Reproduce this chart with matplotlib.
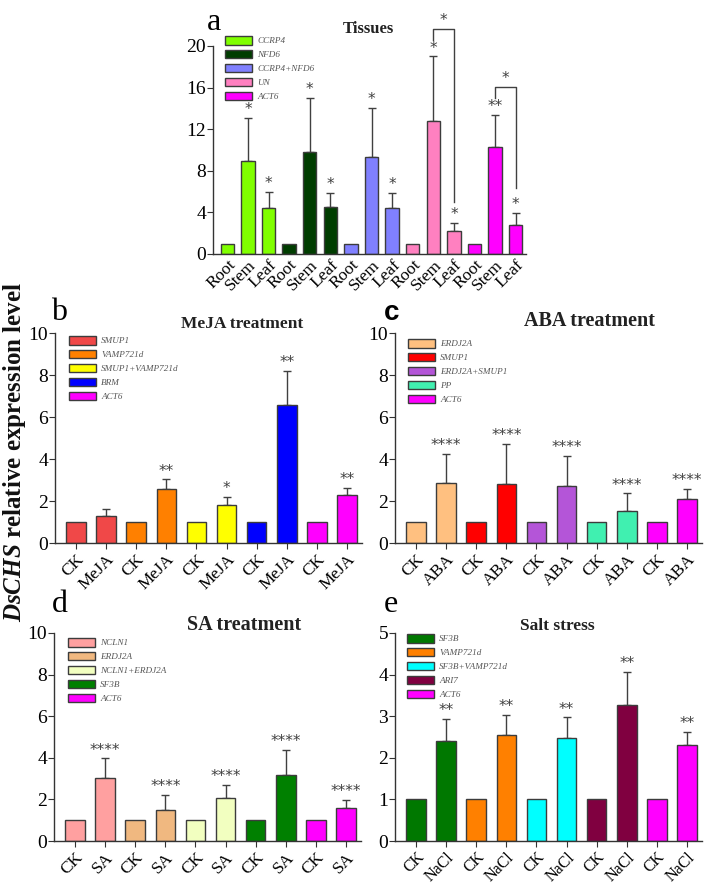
import matplotlib
matplotlib.use("Agg")
import matplotlib.pyplot as plt
from matplotlib.patches import Patch
import numpy as np

plt.rcParams['font.family'] = ['Liberation Serif', 'DejaVu Serif']
plt.rcParams['mathtext.fontset'] = 'custom'
plt.rcParams['mathtext.it'] = 'Liberation Serif:italic:bold'
plt.rcParams['mathtext.rm'] = 'Liberation Serif:bold'

W, H = 709, 885

# ---- panel a : tissues ----
a_genes = ['CCRP4', 'NFD6', 'CCRP4+NFD6', 'UN', 'ACT6']
a_colors = ['#80FF00', '#003D00', '#8080FF', '#FF80C0', '#FF00FF']
a_ticks = ['Root', 'Stem', 'Leaf']
a_means = [[1.0, 8.9, 4.45], [1.0, 9.8, 4.5], [1.0, 9.3, 4.45],
           [1.0, 12.8, 2.25], [1.0, 10.25, 2.8]]
a_errs = [[0, 4.2, 1.55], [0, 5.2, 1.35], [0, 4.75, 1.42],
          [0, 6.2, 0.72], [0, 3.15, 1.17]]
a_stars = [['', '*', '*'], ['', '*', '*'], ['', '*', '*'],
           ['', '*', '*'], ['', '**', '*']]

# ---- panel b : MeJA ----
b_genes = ['SMUP1', 'VAMP721d', 'SMUP1+VAMP721d', 'BRM', 'ACT6']
b_colors = ['#F04848', '#FF8000', '#FFFF00', '#0000FF', '#FF00FF']
b_ticks = ['CK', 'MeJA']
b_means = [[1, 1.3], [1, 2.55], [1, 1.82], [1, 6.58], [1, 2.28]]
b_errs = [[0, 0.32], [0, 0.48], [0, 0.38], [0, 1.6], [0, 0.35]]
b_stars = [['', ''], ['', '**'], ['', '*'], ['', '**'], ['', '**']]

# ---- panel c : ABA ----
c_genes = ['ERDJ2A', 'SMUP1', 'ERDJ2A+SMUP1', 'PP', 'ACT6']
c_colors = ['#FFC080', '#FF0000', '#B455D8', '#40F0B0', '#FF00FF']
c_ticks = ['CK', 'ABA']
c_means = [[1, 2.88], [1, 2.8], [1, 2.73], [1, 1.53], [1, 2.1]]
c_errs = [[0, 1.38], [0, 1.92], [0, 1.4], [0, 0.83], [0, 0.48]]
c_stars = [['', '****']] * 5

# ---- panel d : SA ----
d_genes = ['NCLN1', 'ERDJ2A', 'NCLN1+ERDJ2A', 'SF3B', 'ACT6']
d_colors = ['#FFA0A0', '#F0B880', '#F2FFC0', '#008000', '#FF00FF']
d_ticks = ['CK', 'SA']
d_means = [[1, 3.05], [1, 1.48], [1, 2.05], [1, 3.15], [1, 1.58]]
d_errs = [[0, 0.92], [0, 0.74], [0, 0.65], [0, 1.22], [0, 0.4]]
d_stars = [['', '****']] * 5

# ---- panel e : salt ----
e_genes = ['SF3B', 'VAMP721d', 'SF3B+VAMP721d', 'ARI7', 'ACT6']
e_colors = ['#007800', '#FF8000', '#00FFFF', '#800040', '#FF00FF']
e_ticks = ['CK', 'NaCl']
e_means = [[1, 2.4], [1, 2.55], [1, 2.48], [1, 3.28], [1, 2.3]]
e_errs = [[0, 0.53], [0, 0.49], [0, 0.49], [0, 0.78], [0, 0.32]]
e_stars = [['', '**']] * 5

EDGE = '#3c3c3c'
GREY = '#404040'


def px_axes(l, t, r, b):
    return [l / W, 1 - b / H, (r - l) / W, (b - t) / H]


def draw_panel(ax, genes, colors, ticks, means, errs, stars, ymax, ystep,
               xticks_marks=True, leg_xy=(12, 0), xsize=12.5):
    n = len(ticks)
    labels = []
    x = 0
    for g, col in enumerate(colors):
        for k in range(n):
            m = means[g][k]
            e = errs[g][k]
            ax.bar(x, m, width=0.65, color=col, edgecolor=EDGE, linewidth=1.0, zorder=2)
            if e > 0:
                ax.errorbar(x, m, yerr=[[0], [e]], fmt='none', ecolor=GREY,
                            elinewidth=1.0, capsize=3, capthick=1.0, zorder=1)
            if stars[g][k]:
                ax.text(x, m + e + ymax * 0.004, stars[g][k], ha='center', va='bottom',
                        fontsize=11, color=GREY, fontfamily='DejaVu Sans')
            labels.append(ticks[k])
            x += 1
    ax.set_xlim(-0.7, x - 0.5)
    ax.set_ylim(0, ymax)
    yt = np.arange(0, ymax + 0.01, ystep)
    ax.set_yticks(yt)
    ax.set_yticklabels([f'{v:g}' for v in yt])
    ax.set_xticks(range(x))
    ax.set_xticklabels(labels, rotation=45, ha='right', rotation_mode='anchor')
    for s in ['top', 'right']:
        ax.spines[s].set_visible(False)
    for s in ['left', 'bottom']:
        ax.spines[s].set_color('#333333')
        ax.spines[s].set_linewidth(1.0)
    ax.tick_params(axis='y', labelsize=14, length=4, color='#333333', pad=1)
    ax.tick_params(axis='x', labelsize=xsize, length=4 if xticks_marks else 0,
                   color='#333333', pad=2)
    handles = [Patch(facecolor=c, edgecolor=EDGE, linewidth=1.0) for c in colors]
    bb = ax.get_position()
    lx = bb.x0 + leg_xy[0] / W
    ly = bb.y1 + leg_xy[1] / H
    ax.legend(handles, genes, loc='upper left', bbox_to_anchor=(lx, ly),
              bbox_transform=ax.figure.transFigure, frameon=False,
              prop={'style': 'italic', 'size': 6.6}, labelcolor='#555555',
              handlelength=2.9, handleheight=1.05, labelspacing=0.5,
              handletextpad=0.6, borderpad=0, borderaxespad=0)


fig = plt.figure(figsize=(W / 100, H / 100), dpi=100)

ax_a = fig.add_axes(px_axes(213, 46, 526, 254))
draw_panel(ax_a, a_genes, a_colors, a_ticks, a_means, a_errs, a_stars, 20, 4,
           xticks_marks=False, leg_xy=(12, 10))

# significance brackets in panel a (UN and ACT6, Stem vs Leaf)
br_x = [(10, 11), (13, 14)]
br_y = [21.6, 16.1]
br_low = [(20.6, 5.0), (15.0, 6.3)]
for (x1, x2), yb, (l1, l2) in zip(br_x, br_y, br_low):
    ax_a.plot([x1, x1, x2, x2], [l1, yb, yb, l2], color=GREY, lw=1.0, clip_on=False)
    ax_a.text((x1 + x2) / 2, yb + 0.1, '*', ha='center', va='bottom', fontsize=11,
              color=GREY, fontfamily='DejaVu Sans', clip_on=False)

ax_b = fig.add_axes(px_axes(55, 333, 362, 543))
draw_panel(ax_b, b_genes, b_colors, b_ticks, b_means, b_errs, b_stars, 10, 2,
           leg_xy=(14, -3))
ax_c = fig.add_axes(px_axes(395, 333, 702, 543))
draw_panel(ax_c, c_genes, c_colors, c_ticks, c_means, c_errs, c_stars, 10, 2,
           leg_xy=(13, -6))
ax_d = fig.add_axes(px_axes(54, 633, 361, 841))
draw_panel(ax_d, d_genes, d_colors, d_ticks, d_means, d_errs, d_stars, 10, 2,
           leg_xy=(14, -5))
ax_e = fig.add_axes(px_axes(395, 633, 702, 841))
draw_panel(ax_e, e_genes, e_colors, e_ticks, e_means, e_errs, e_stars, 5, 1,
           leg_xy=(12, -1), xsize=11.5)


def ftext(x, y, s, **kw):
    return fig.text(x / W, 1 - y / H, s, **kw)


# titles
ftext(368, 29, 'Tissues', ha='center', va='center', fontsize=12, fontweight='bold', color='#222222')
ftext(242, 324, 'MeJA treatment', ha='center', va='center', fontsize=12.5, fontweight='bold', color='#222222')
ftext(590, 321, 'ABA treatment', ha='center', va='center', fontsize=14.5, fontweight='bold', color='#222222')
ftext(244, 625, 'SA treatment', ha='center', va='center', fontsize=14.5, fontweight='bold', color='#222222')
ftext(557, 626, 'Salt stress', ha='center', va='center', fontsize=12.5, fontweight='bold', color='#222222')

# panel letters
ftext(207, 22, 'a', ha='left', va='center', fontsize=23)
ftext(51, 313, 'b', ha='left', va='center', fontsize=23)
ftext(384, 313, 'c', ha='left', va='center', fontsize=20, fontweight='bold', fontfamily='Liberation Sans')
ftext(52, 604, 'd', ha='left', va='center', fontsize=23)
ftext(384, 604, 'e', ha='left', va='center', fontsize=23)

# shared y label
ftext(15, 452, r'$\mathit{DsCHS}$ relative expression level', rotation=90,
      ha='center', va='center', fontsize=18, fontweight='bold', color='#111111')

fig.savefig('out.png', dpi=100)
